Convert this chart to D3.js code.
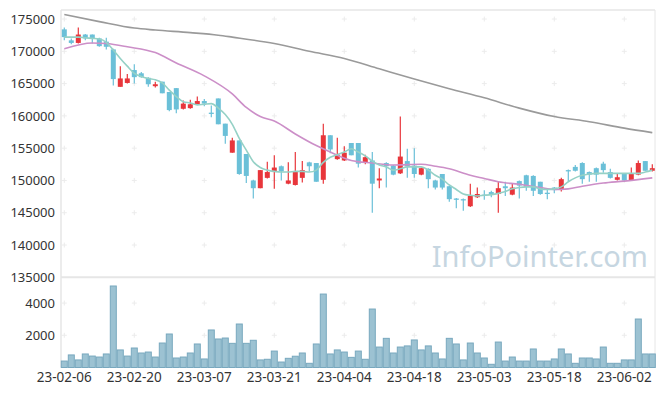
<!DOCTYPE html>
<html>
<head>
<meta charset="utf-8">
<script src="https://cdnjs.cloudflare.com/ajax/libs/d3/7.8.5/d3.min.js"></script>
<style>
  html, body { margin: 0; padding: 0; background: #fff; }
  svg { display: block; }
</style>
</head>
<body>
<svg id="chart" width="665" height="396"></svg>
<script>
// ---------- DATA ----------
const dates = [
  "23-02-06","23-02-07","23-02-08","23-02-09","23-02-10","23-02-13","23-02-14","23-02-15","23-02-16","23-02-17",
  "23-02-20","23-02-21","23-02-22","23-02-23","23-02-24","23-02-27","23-02-28","23-03-02","23-03-03","23-03-06",
  "23-03-07","23-03-08","23-03-09","23-03-10","23-03-13","23-03-14","23-03-15","23-03-16","23-03-17","23-03-20",
  "23-03-21","23-03-22","23-03-23","23-03-24","23-03-27","23-03-28","23-03-29","23-03-30","23-03-31","23-04-03",
  "23-04-04","23-04-05","23-04-06","23-04-07","23-04-10","23-04-11","23-04-12","23-04-13","23-04-14","23-04-17",
  "23-04-18","23-04-19","23-04-20","23-04-21","23-04-24","23-04-25","23-04-26","23-04-27","23-04-28","23-05-02",
  "23-05-03","23-05-04","23-05-08","23-05-09","23-05-10","23-05-11","23-05-12","23-05-15","23-05-16","23-05-17",
  "23-05-18","23-05-19","23-05-22","23-05-23","23-05-24","23-05-25","23-05-26","23-05-30","23-05-31","23-06-01",
  "23-06-02","23-06-05","23-06-07","23-06-08","23-06-09"
];
const openP = [
  173400,171700,171300,172600,172600,172000,171500,170300,164500,165100,
  167100,166600,165900,164600,165300,163700,164300,161100,161200,161800,
  162300,160500,162700,158800,154300,156200,154100,150000,148800,150400,
  151300,152200,149500,149300,150400,152800,152700,150100,157000,153300,
  153100,155800,155800,152800,153100,150000,152700,152300,151100,153000,
  152300,150900,151800,150000,151000,149100,147200,147100,146000,147400,
  147800,148200,147900,149100,147800,149900,150800,150700,149800,148100,
  148900,148600,151600,152100,152700,151300,151900,152600,151300,150100,
  151000,150000,150900,153000,151500
];
const highP = [
  173700,172000,173700,172700,172600,172100,172100,170400,167700,166500,
  168000,166800,166000,165300,165300,163700,164300,162400,162500,163000,
  162600,161600,162700,158800,156600,156200,154100,150100,151600,152900,
  153900,152300,152800,154400,153000,152900,152700,158800,157000,156600,
  155300,155800,155800,154000,154400,151900,152800,152400,159900,154900,
  155000,152000,151900,150100,151000,149200,147300,147200,149500,148900,
  148500,148400,149900,149800,149500,150000,150900,150800,149800,148700,
  149000,150400,151700,152400,152800,151400,152000,152900,151800,151000,
  151100,152000,153100,153000,152500
];
const lowP = [
  171700,171100,171200,171700,171200,170700,170300,164700,164500,165000,
  165000,165900,164500,164400,163500,160700,160400,161000,161100,161700,
  161500,159800,158700,155700,154300,150900,149600,147200,148800,150300,
  148700,150000,149400,149200,149700,151400,149800,149500,154200,153200,
  153000,153900,152000,152500,145000,148800,148900,150800,151000,150400,
  150400,150800,148800,148600,148600,146700,145700,145300,145900,147300,
  147000,147400,145000,147600,147700,147200,148400,147600,147800,147100,
  148000,148300,149900,151400,149500,149800,149800,151200,150300,150000,
  149800,149900,150800,151500,151400
];
const closeP = [
  172200,171300,172600,172000,172000,170800,170700,165700,165800,165800,
  166000,166000,164900,164900,163500,160900,161000,161900,161800,162300,
  161900,160300,158700,156900,156200,151000,150700,148800,151600,151300,
  152000,151400,150000,151400,151600,152200,149800,157000,154800,154000,
  154300,153900,152600,153600,149500,150300,152200,150900,153700,152200,
  151000,151900,150200,148900,148900,147100,147000,146900,147600,147900,
  147600,147800,148800,148800,148900,149200,149000,148400,147900,147900,
  148500,150200,151400,151500,150200,150900,150900,151600,150400,150500,
  150000,151000,152700,151500,151900
];
const volume = [
  400,780,470,840,710,650,840,5060,1090,710,
  1210,900,960,650,1520,2080,590,650,900,1460,
  530,2330,1770,1830,1500,2700,1500,1690,470,510,
  1020,340,570,700,900,260,1460,4560,840,1090,
  960,630,1020,510,3630,1270,1810,900,1270,1340,
  1710,1090,1340,900,530,1810,1460,470,1520,900,
  590,200,1580,400,650,400,400,1150,400,400,
  530,1150,840,260,590,590,530,1270,260,260,
  470,470,3010,840,840
];
const ma5 = [
  172200,172200,172200,172100,172000,171900,171400,170200,168900,167700,
  166600,166100,165800,165600,165100,164000,163000,162200,162000,161700,
  161800,161900,161200,160200,158700,156500,154700,152900,152000,151600,
  151400,151300,151300,151400,151400,151300,151600,152800,153600,154000,
  154400,154900,154400,153800,153000,152400,152100,151600,151800,152100,
  152100,152100,151600,150800,150200,149300,148600,147900,147700,147600,
  147700,147800,148000,148300,148700,148900,149000,149000,148700,148600,
  148700,149000,149800,150400,150800,151000,151100,151100,151100,151100,
  151100,151100,151100,151300,151600
];
const ma20Idx = [0,4,6,9,13,16,20,24,26,28,30,33,36,38,41,44,47,51,53,55,58,60,62,65,68,70,72,74,77,80,84];
const ma20Val = [170400,171300,171200,170700,169800,168200,166200,163400,161300,159900,159200,157200,155400,154400,153100,152700,152400,152500,152200,151800,150800,150300,149800,149400,148900,148600,148700,149100,149600,149900,150400];
const ma60Idx = [0,5,10,13,18,22,24,30,35,40,45,50,55,60,65,70,75,80,84];
const ma60Val = [175700,174600,173600,173300,172900,172500,172200,171200,170000,168900,167300,165700,164200,162800,161200,159900,159100,158100,157400];
const priceTicks = [175000,170000,165000,160000,155000,150000,145000,140000,135000];
const volumeTicks = [4000,2000];
const xTickIdx = [0,10,20,30,40,50,60,70,80];

// ---------- LAYOUT ----------
const svg = d3.select("#chart");
const plotL = 61, plotR = 655, plotT = 10, sepY = 277.3, plotB = 367.5;
const upColor = "#e8363b", downColor = "#6bc0d8";
const fontFam = "'Noto Sans', 'DejaVu Sans', sans-serif";

const x = d3.scaleBand().domain(d3.range(dates.length)).range([60.8, 60.8 + 7 * dates.length]);
const xc = i => x(i) + x.bandwidth() / 2;
const y = d3.scaleLinear().domain([135000, 176400]).range([sepY, plotT]);
const yv = d3.scaleLinear().domain([0, 5600]).range([plotB, sepY]);

// watermark
svg.append("text")
  .attr("x", 648).attr("y", 267)
  .attr("text-anchor", "end")
  .attr("font-family", fontFam)
  .attr("font-size", 29)
  .attr("fill", "#c6d6e1")
  .text("InfoPointer.com");

// grid crosses
const gridG = svg.append("g").attr("stroke", "#ececec").attr("stroke-width", 1);
function cross(cx, cy) {
  gridG.append("line").attr("x1", cx - 2.5).attr("x2", cx + 2.5).attr("y1", cy).attr("y2", cy);
  gridG.append("line").attr("x1", cx).attr("x2", cx).attr("y1", cy - 2.5).attr("y2", cy + 2.5);
}
xTickIdx.forEach(i => {
  priceTicks.filter(t => t > 135000).forEach(t => cross(xc(i), y(t)));
  volumeTicks.forEach(t => cross(xc(i), yv(t)));
});

// frame
const frame = svg.append("g").attr("stroke", "#e6e6e6").attr("fill", "none");
frame.append("line").attr("x1", plotL).attr("x2", plotR).attr("y1", plotT).attr("y2", plotT).attr("stroke-width", 1.5);
frame.append("line").attr("x1", plotR).attr("x2", plotR).attr("y1", plotT).attr("y2", plotB).attr("stroke-width", 1);
frame.append("line").attr("x1", plotL).attr("x2", plotL).attr("y1", plotT).attr("y2", plotB).attr("stroke-width", 1.5);
frame.append("line").attr("x1", plotL).attr("x2", plotR).attr("y1", sepY).attr("y2", sepY).attr("stroke-width", 2);

// volume bars
svg.append("g").selectAll("rect").data(volume).join("rect")
  .attr("x", (d, i) => x(i) + 0.5)
  .attr("width", x.bandwidth() - 1)
  .attr("y", d => yv(d))
  .attr("height", d => plotB - yv(d))
  .attr("fill", "#9cc2d2")
  .attr("stroke", "#78a8be")
  .attr("stroke-width", 1);

// candles
const cg = svg.append("g");
dates.forEach((d, i) => {
  const up = closeP[i] >= openP[i];
  const col = up ? upColor : downColor;
  cg.append("line")
    .attr("x1", xc(i)).attr("x2", xc(i))
    .attr("y1", y(highP[i])).attr("y2", y(lowP[i]))
    .attr("stroke", col).attr("stroke-width", 1.2);
  const yt = y(Math.max(openP[i], closeP[i]));
  const yb = y(Math.min(openP[i], closeP[i]));
  cg.append("rect")
    .attr("x", xc(i) - 2.5).attr("width", 5)
    .attr("y", yt).attr("height", Math.max(1.2, yb - yt))
    .attr("fill", col);
});

// moving averages
const line = d3.line().curve(d3.curveMonotoneX);
svg.append("path")
  .attr("d", line(ma60Idx.map((k, j) => [xc(k), y(ma60Val[j])])))
  .attr("fill", "none").attr("stroke", "#9a9a9a").attr("stroke-width", 1.6);
svg.append("path")
  .attr("d", line(ma20Idx.map((k, j) => [xc(k), y(ma20Val[j])])))
  .attr("fill", "none").attr("stroke", "#cc8fc8").attr("stroke-width", 1.6);
svg.append("path")
  .attr("d", line(ma5.map((v, i) => [xc(i), y(v)])))
  .attr("fill", "none").attr("stroke", "#95d1c6").attr("stroke-width", 1.6);

// axes
const yAxis = d3.axisLeft(y).tickValues(priceTicks).tickSize(0).tickPadding(6).tickFormat(d3.format("d"));
const ya = svg.append("g").attr("transform", `translate(${plotL},0)`).call(yAxis);
const yvAxis = d3.axisLeft(yv).tickValues(volumeTicks).tickSize(0).tickPadding(6).tickFormat(d3.format("d"));
const yva = svg.append("g").attr("transform", `translate(${plotL},0)`).call(yvAxis);
const xAxis = d3.axisBottom(x).tickValues(xTickIdx).tickSize(0).tickPadding(5).tickFormat(i => dates[i]);
const xa = svg.append("g").attr("transform", `translate(0,${plotB})`).call(xAxis);
[ya, yva].forEach(g => {
  g.select(".domain").remove();
  g.selectAll("text").attr("font-family", fontFam).attr("font-size", 13).attr("fill", "#333");
});
xa.select(".domain").remove();
xa.selectAll("text").attr("font-family", fontFam).attr("font-size", 13.5).attr("fill", "#333");
</script>
</body>
</html>
